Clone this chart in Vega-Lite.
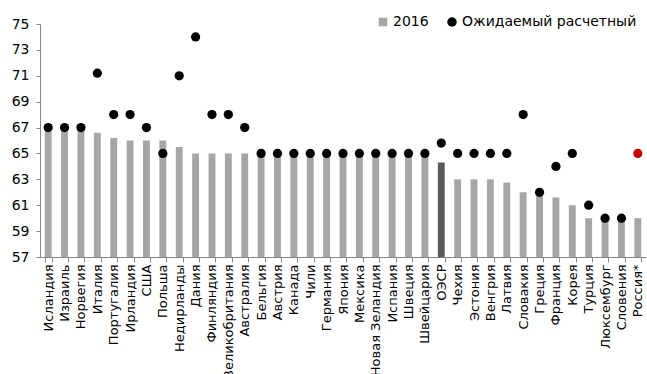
{
  "$schema": "https://vega.github.io/schema/vega-lite/v6.json",
  "autosize": "none",
  "width": 606,
  "height": 233,
  "padding": {"left": 40, "top": 24, "right": 1, "bottom": 117},
  "background": "white",
  "config": {
    "view": {"stroke": null},
    "font": "DejaVu Sans",
    "axis": {"labelFont": "DejaVu Sans", "labelColor": "#000000", "domainColor": "#868686", "tickColor": "#868686", "grid": false, "title": null, "labelOverlap": false}
  },
  "data": {
    "values": [
      {"country": "Исландия", "v2016": 67, "expected": 67},
      {"country": "Израиль", "v2016": 67, "expected": 67},
      {"country": "Норвегия", "v2016": 67, "expected": 67},
      {"country": "Италия", "v2016": 66.6, "expected": 71.2},
      {"country": "Португалия", "v2016": 66.2, "expected": 68},
      {"country": "Ирландия", "v2016": 66, "expected": 68},
      {"country": "США", "v2016": 66, "expected": 67},
      {"country": "Польша", "v2016": 66, "expected": 65},
      {"country": "Недирланды", "v2016": 65.5, "expected": 71},
      {"country": "Дания", "v2016": 65, "expected": 74},
      {"country": "Финляндия", "v2016": 65, "expected": 68},
      {"country": "Великобритания", "v2016": 65, "expected": 68},
      {"country": "Австралия", "v2016": 65, "expected": 67},
      {"country": "Бельгия", "v2016": 65, "expected": 65},
      {"country": "Австрия", "v2016": 65, "expected": 65},
      {"country": "Канада", "v2016": 65, "expected": 65},
      {"country": "Чили", "v2016": 65, "expected": 65},
      {"country": "Германия", "v2016": 65, "expected": 65},
      {"country": "Япония", "v2016": 65, "expected": 65},
      {"country": "Мексика", "v2016": 65, "expected": 65},
      {"country": "Новая Зеландия", "v2016": 65, "expected": 65},
      {"country": "Испания", "v2016": 65, "expected": 65},
      {"country": "Швеция", "v2016": 65, "expected": 65},
      {"country": "Швейцария", "v2016": 65, "expected": 65},
      {"country": "ОЭСР", "v2016": 64.3, "expected": 65.8},
      {"country": "Чехия", "v2016": 63, "expected": 65},
      {"country": "Эстония", "v2016": 63, "expected": 65},
      {"country": "Венгрия", "v2016": 63, "expected": 65},
      {"country": "Латвия", "v2016": 62.75, "expected": 65},
      {"country": "Словакия", "v2016": 62, "expected": 68},
      {"country": "Греция", "v2016": 62, "expected": 62},
      {"country": "Франция", "v2016": 61.6, "expected": 64},
      {"country": "Корея", "v2016": 61, "expected": 65},
      {"country": "Турция", "v2016": 60, "expected": 61},
      {"country": "Люксембург", "v2016": 60, "expected": 60},
      {"country": "Словения", "v2016": 60, "expected": 60},
      {"country": "Россия*", "v2016": 60, "expected": 65}
    ]
  },
  "encoding": {
    "x": {
      "field": "country",
      "type": "nominal",
      "sort": null,
      "scale": {"paddingInner": 0.58, "paddingOuter": 0.29},
      "axis": {"labelAngle": 270, "labelFontSize": 13, "tickBand": "extent", "tickSize": 5, "labelPadding": 2}
    }
  },
  "layer": [
    {
      "mark": {"type": "bar"},
      "encoding": {
        "y": {
          "field": "v2016",
          "type": "quantitative",
          "scale": {"domain": [57, 75], "zero": false, "nice": false},
          "axis": {"values": [57, 59, 61, 63, 65, 67, 69, 71, 73, 75], "labelFontSize": 14, "tickSize": 4, "labelPadding": 7, "labelOverlap": false, "labelFlush": false, "labelBound": false}
        },
        "y2": {"datum": 57},
        "color": {
          "condition": {"test": "datum.country === 'ОЭСР'", "value": "#595959"},
          "datum": "2016",
          "scale": {"domain": ["2016", "Ожидаемый расчетный"], "range": ["#a6a6a6", "#000000"]},
          "legend": {
            "title": null,
            "orient": "none",
            "legendX": 336,
            "legendY": -9,
            "direction": "horizontal",
            "labelFontSize": 14,
            "labelFont": "DejaVu Sans",
            "labelColor": "#000000",
            "labelLimit": 400,
            "labelOffset": 3,
            "columnPadding": 16,
            "symbolStrokeWidth": 0,
            "encode": {
              "symbols": {
                "update": {
                  "shape": {"signal": "datum.value === '2016' ? 'square' : 'circle'"},
                  "size": {"signal": "datum.value === '2016' ? 72 : 90"},
                  "opacity": {"value": 1},
                  "fillOpacity": {"value": 1}
                }
              }
            }
          }
        }
      }
    },
    {
      "mark": {"type": "point", "filled": true, "size": 85, "opacity": 1},
      "encoding": {
        "y": {
          "field": "expected",
          "type": "quantitative",
          "axis": {"values": [57, 59, 61, 63, 65, 67, 69, 71, 73, 75], "labelFontSize": 14, "tickSize": 4, "labelPadding": 7, "labelOverlap": false, "labelFlush": false, "labelBound": false}
        },
        "color": {
          "condition": {"test": "datum.country === 'Россия*'", "value": "#c00000"},
          "datum": "Ожидаемый расчетный"
        }
      }
    }
  ]
}
